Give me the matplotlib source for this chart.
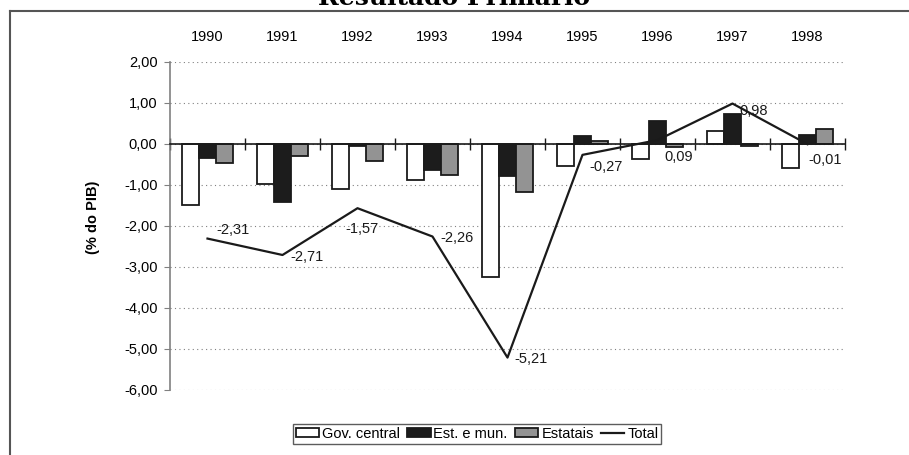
import numpy as np
import matplotlib.pyplot as plt
from matplotlib.ticker import FuncFormatter
from matplotlib.patches import Rectangle
from matplotlib.lines import Line2D

plt.rcParams['font.family'] = ['Liberation Sans', 'DejaVu Sans']

anos = ['1990', '1991', '1992', '1993', '1994', '1995', '1996', '1997', '1998']
gov_central = [-1.50, -0.98, -1.11, -0.88, -3.25, -0.53, -0.38, 0.31, -0.59]
est_mun = [-0.35, -1.42, -0.05, -0.63, -0.79, 0.19, 0.55, 0.73, 0.22]
estatais = [-0.46, -0.31, -0.41, -0.75, -1.17, 0.07, -0.08, -0.06, 0.36]
total = [-2.31, -2.71, -1.57, -2.26, -5.21, -0.27, 0.09, 0.98, -0.01]

# label offsets in pixels (dx, dy down) relative to each point
lbl_off = [(9, -9), (8, 2), (-12, 21), (8, 1), (7, 1), (7, 12), (7, 17), (7, 7), (1, 16)]

W, H = 909, 455
fs = 10.5
fig = plt.figure(figsize=(W / 100, H / 100), dpi=100)
ax = fig.add_axes([170 / W, 1 - 390 / H, (845 - 170) / W, (390 - 61.7) / H])

x = np.arange(len(anos))
w = 0.228
ax.bar(x - w, gov_central, w, color='white', edgecolor='#1a1a1a', linewidth=1.3, zorder=3)
ax.bar(x, est_mun, w, color='#1c1c1c', edgecolor='#1a1a1a', linewidth=1.3, zorder=3)
ax.bar(x + w, estatais, w, color='#939393', edgecolor='#1a1a1a', linewidth=1.3, zorder=3)
ax.plot(x, total, color='#1a1a1a', lw=1.6, zorder=4)

for i, v in enumerate(total):
    dx, dy = lbl_off[i]
    ax.annotate(f"{v:.2f}".replace('.', ','), (x[i], v), xytext=(dx * 0.72, -dy * 0.72),
                textcoords='offset points', ha='left', va='center', fontsize=fs,
                color='#1a1a1a', zorder=5)

ax.set_xlim(-0.5, len(anos) - 0.5)
ax.set_ylim(-6, 2)
ax.set_yticks(np.arange(-6, 3, 1))
ax.yaxis.set_major_formatter(FuncFormatter(lambda v, p: f"{v:.2f}".replace('.', ',')))
ax.tick_params(axis='y', length=4, color='#808080', labelsize=fs, pad=5)
ax.grid(axis='y', linestyle=(0, (1, 3)), color='#808080', lw=0.8, zorder=0)

ax.set_xticks(x)
ax.set_xticklabels(anos)
ax.set_xticks(np.arange(-0.5, len(anos), 1), minor=True)
ax.tick_params(axis='x', which='major', bottom=False, top=False, labelbottom=False,
               labeltop=True, labelsize=fs, pad=9)
ax.tick_params(axis='x', which='minor', bottom=True, top=False, direction='inout',
               length=8, width=1, color='#1a1a1a')

ax.spines['bottom'].set_position(('data', 0))
ax.spines['bottom'].set_color('#1a1a1a')
ax.spines['bottom'].set_linewidth(1.2)
ax.spines['bottom'].set_zorder(4)
ax.spines['top'].set_visible(False)
ax.spines['right'].set_visible(False)
ax.spines['left'].set_color('#808080')
ax.spines['left'].set_linewidth(1.2)

fig.text(93 / W, 1 - 217 / H, '(% do PIB)', rotation=90, ha='center', va='center',
         fontsize=fs, fontweight='bold')

# title is cut at the top edge in the original as well
fig.text(0.5, 1 - 5 / H, 'Resultado Primário', ha='center', va='baseline',
         fontsize=18, fontweight='heavy', family=['DejaVu Serif'])

# frame: top and left lines only
fig.add_artist(Line2D([10 / W, 1], [1 - 11 / H, 1 - 11 / H], transform=fig.transFigure,
                      color='#555555', lw=1.5))
fig.add_artist(Line2D([10 / W, 10 / W], [0, 1 - 11 / H], transform=fig.transFigure,
                      color='#555555', lw=1.5))

handles = [Rectangle((0, 0), 1, 1, facecolor='white', edgecolor='#1a1a1a', lw=1.3),
           Rectangle((0, 0), 1, 1, facecolor='#1c1c1c', edgecolor='#1a1a1a', lw=1.3),
           Rectangle((0, 0), 1, 1, facecolor='#939393', edgecolor='#1a1a1a', lw=1.3),
           Line2D([], [], color='#1a1a1a', lw=1.6)]
leg = fig.legend(handles, ['Gov. central', 'Est. e mun.', 'Estatais', 'Total'], ncol=4,
                 loc='center', bbox_to_anchor=(477 / W, 1 - 434 / H), fontsize=fs,
                 frameon=True, fancybox=False, edgecolor='#333333', handlelength=1.6,
                 handleheight=0.6, handletextpad=0.2, columnspacing=0.5,
                 borderpad=0.2, borderaxespad=0)
leg.get_frame().set_linewidth(1.0)

fig.savefig('out.png', dpi=100)
